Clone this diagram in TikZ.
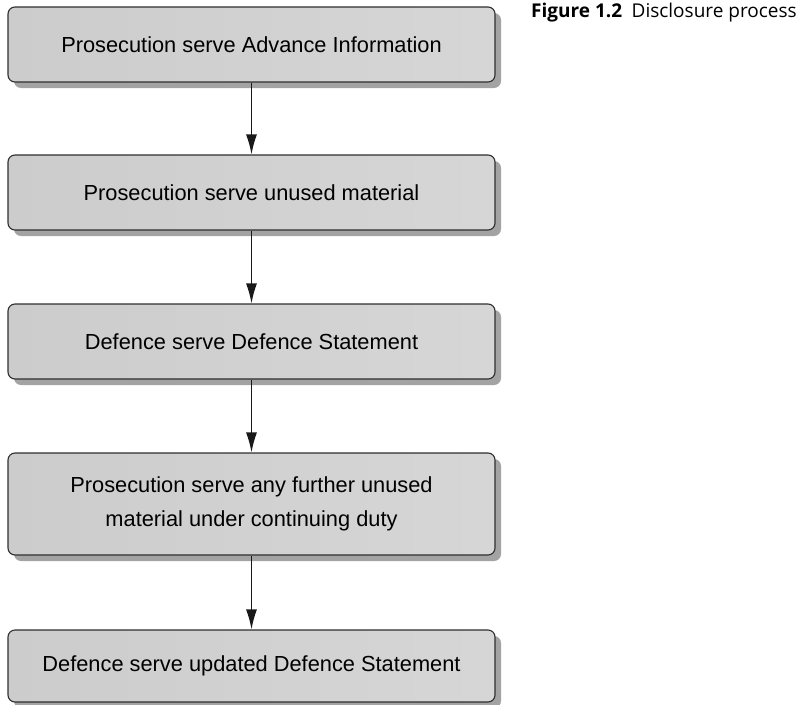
\documentclass[tikz,border=0pt]{standalone}
\usepackage{fontspec}
\setmainfont{Liberation Sans}
\newfontfamily\capfont{Open Sans}
\usepackage{xcolor}
\definecolor{boxline}{rgb}{0.18,0.18,0.18}
\definecolor{boxshadow}{rgb}{0.64,0.64,0.64}
\usetikzlibrary{arrows.meta,positioning,shadows}

\begin{document}
\begin{tikzpicture}[
    x=1pt,y=1pt,
    stage/.style={rectangle,draw=boxline,line width=1.1pt,rounded corners=7pt,
                  left color=black!20,middle color=black!2,right color=black!16,
                  drop shadow={shadow xshift=6pt,shadow yshift=-6pt,fill=boxshadow,opacity=1},
                  minimum width=487pt,minimum height=75pt,align=center,
                  font=\fontsize{21.8}{34}\selectfont},
    flow/.style={-{Latex[length=20pt,width=11pt]},line width=1.4pt,draw=black!90}
  ]
    \useasboundingbox (0,0) rectangle (800,-704);
    % Stages
    \node[stage] (adv)     at (251.5,-44.5) {Prosecution serve Advance Information};
    \node[stage] (unused)  at (251.5,-192.5){Prosecution serve unused material};
    \node[stage] (dstmt)   at (251.5,-341.5){Defence serve Defence Statement};
    \node[stage,minimum height=102pt] (further) at (251.5,-504)
        {Prosecution serve any further unused\\material under continuing duty};
    \node[stage,minimum height=72pt] (upd) at (251.5,-666){Defence serve updated Defence Statement};
    % Caption
    \node[anchor=north west,inner sep=0pt,font=\capfont\fontsize{19}{22}\selectfont] (cap) at (531,-3)
        {\textbf{Figure 1.2}\hspace{0.5em}Disclosure process};

    % Arrows
    \draw[flow] (adv)--(unused);
    \draw[flow] (unused)--(dstmt);
    \draw[flow] (dstmt)--(further);
    \draw[flow] (further)--(upd);
  \end{tikzpicture}
\end{document}
